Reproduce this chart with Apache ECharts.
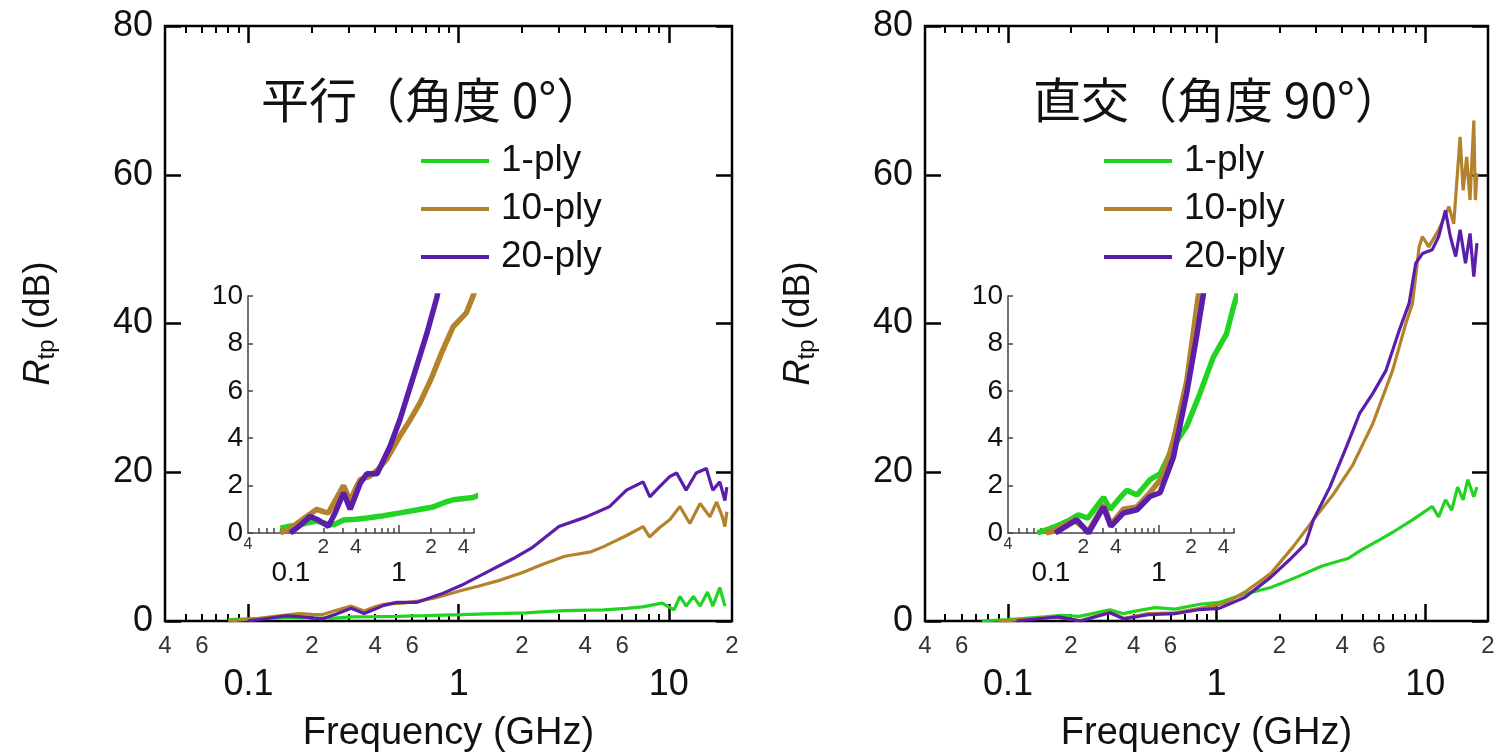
<!DOCTYPE html>
<html>
<head>
<meta charset="utf-8">
<title>Rtp vs Frequency</title>
<style>html,body{margin:0;padding:0;background:#fff;}</style>
</head>
<body>
<script src="https://cdn.jsdelivr.net/npm/echarts@6/dist/echarts.min.js"></script>
<div id="container" style="width:1497px;height:755px;"></div>
<script>
// ---- data (GHz, dB) ----
var seriesNames = ['1-ply', '10-ply', '20-ply'];
var seriesColors = ['#22d422', '#b4822a', '#5a1eab'];
var panelTitles = ['平行（角度 0°）', '直交（角度 90°）'];

// parallel (0 deg)
var green0 = [[0.08,0.2],[0.1,0.3],[0.12,0.35],[0.15,0.45],[0.174,0.5],[0.2,0.42],[0.25,0.35],[0.308,0.55],[0.4,0.58],[0.506,0.63],[0.7,0.72],[1.03,0.85],[1.5,0.98],[2.09,1.1],[2.7,1.3],[3.2,1.4],[4.9,1.5],[6.3,1.7],[7.5,1.9],[9.3,2.4],[10.6,1.5],[11.3,3.3],[12.1,2.0],[13.1,3.3],[14.1,2.0],[15.3,3.9],[16.2,2.0],[17.5,4.5],[18.5,2.0]];
var brown0 = [[0.08,0],[0.1,0.2],[0.114,0.4],[0.14,0.7],[0.174,1.0],[0.2,0.9],[0.223,0.85],[0.26,1.4],[0.308,2.0],[0.355,1.35],[0.4,1.9],[0.44,2.25],[0.54,2.4],[0.65,2.7],[0.77,3.1],[1.03,4.1],[1.25,4.7],[1.58,5.5],[2.0,6.5],[2.5,7.6],[3.2,8.7],[4.26,9.3],[4.9,10],[5.24,10.4],[6.3,11.5],[7.55,12.7],[8.1,11.3],[9.0,12.5],[10.1,13.6],[11.3,15.4],[12.6,13.1],[14.1,15.8],[15.7,14.0],[16.9,16.0],[18.0,14.0],[18.5,12.7],[18.9,14.7]];
var purple0 = [[0.099,0],[0.12,0.3],[0.151,0.7],[0.18,0.55],[0.223,0.28],[0.26,0.9],[0.308,1.7],[0.355,1.0],[0.4,1.6],[0.44,2.1],[0.506,2.5],[0.63,2.5],[0.83,3.65],[1.03,4.8],[1.37,6.6],[1.82,8.4],[2.25,9.9],[3.0,12.7],[4.05,14.0],[5.24,15.4],[6.29,17.6],[7.55,18.7],[8.13,16.7],[9.0,18.0],[10.1,19.4],[10.9,19.9],[12.1,17.6],[13.5,19.9],[15.1,20.5],[16.2,17.6],[17.5,18.7],[18.5,16.2],[18.9,18.0]];

// perpendicular (90 deg)
var green90 = [[0.075,0],[0.082,0.07],[0.1,0.2],[0.12,0.35],[0.15,0.55],[0.18,0.77],[0.22,0.63],[0.308,1.5],[0.355,1.0],[0.44,1.5],[0.506,1.8],[0.63,1.6],[0.83,2.25],[1.03,2.5],[1.37,3.65],[1.82,4.5],[2.42,5.9],[3.2,7.4],[4.26,8.4],[4.95,9.55],[6.04,10.9],[7.24,12.2],[8.69,13.6],[9.7,14.5],[10.8,15.4],[11.6,14.0],[12.5,16.3],[13.4,14.9],[14.3,18.0],[15.2,16.3],[16.0,19.0],[17.1,16.7],[17.7,18.0]];
var brown90 = [[0.09,0],[0.1,0.05],[0.13,0.3],[0.163,0.56],[0.223,0.07],[0.308,1.2],[0.36,0.35],[0.47,1.0],[0.63,1.1],[0.83,1.7],[1.1,2.4],[1.37,3.9],[1.82,6.4],[2.33,10.0],[2.91,13.6],[3.62,17.0],[4.5,21.0],[5.6,26.5],[6.98,33.7],[8.07,40.0],[8.69,42.7],[9.35,50.3],[9.7,51.7],[10.4,50.3],[11.6,52.6],[13.0,55.7],[13.7,53.4],[14.7,65.1],[15.2,57.9],[15.8,62.4],[16.4,56.6],[17.1,67.3],[17.4,56.6],[17.7,60.2]];
var purple90 = [[0.11,0],[0.14,0.3],[0.174,0.56],[0.223,0],[0.308,1.1],[0.36,0.28],[0.47,0.84],[0.63,0.98],[0.83,1.54],[1.03,1.7],[1.37,3.2],[1.82,5.9],[2.25,8.3],[2.67,10.4],[2.91,13.6],[3.49,18.0],[4.19,23.4],[4.85,27.9],[5.61,30.6],[6.49,33.7],[7.51,39.1],[8.37,42.7],[9.01,48.1],[9.7,49.4],[10.8,49.9],[11.6,51.7],[12.5,55.2],[13.2,51.7],[14.0,49.0],[14.7,52.6],[15.6,48.1],[16.4,52.1],[17.1,46.3],[17.7,50.8]];

// axis ticks (GHz)
var freqMin = 0.04, freqMax = 20, insetFreqMax = 5;
var minorTickFreqs = [0.05,0.06,0.07,0.08,0.09,0.2,0.3,0.4,0.5,0.6,0.7,0.8,0.9,2,3,4,5,6,7,8,9];
var minorLabelFreqs = [0.04,0.06,0.2,0.4,0.6,2,4,6,20];
var majorFreqs = [0.1,1,10];
var insetMinorTickFreqs = [0.05,0.06,0.07,0.08,0.09,0.2,0.3,0.4,0.5,0.6,0.7,0.8,0.9,2,3,4,5];
var insetMinorLabelFreqs = [0.04,0.2,0.4,2,4];
var insetMajorFreqs = [0.1,1];

var panelData = [[green0, brown0, purple0], [green90, brown90, purple90]];

// ---- layout ----
var mainGrids = [{left:165, top:26, width:567, height:595}, {left:925, top:26, width:563, height:595}];
var insetGrids = [{left:248, top:296, width:226, height:237}, {left:1008, top:296, width:226, height:237}];
var FONT = '"Liberation Sans", Arial, sans-serif';

var chart = echarts.init(document.getElementById('container'));

function lg(v) { return Math.log10(v); }
function toAxis(list, lo, hi) {
    var a = lg(lo), b = lg(hi);
    return list.map(function (f) { return Math.min(Math.max(lg(f), a + 1e-9), b - 1e-9); });
}
function digitOf(v) {
    var f = Math.pow(10, v);
    return String(Math.round(f / Math.pow(10, Math.floor(Math.log10(f) + 1e-6))));
}
function majorText(v) {
    var f = Math.pow(10, v);
    return f < 0.95 ? f.toFixed(1) : String(Math.round(f));
}

// overlay value axis (log10 space) used only for ticks and labels
function tickAxis(gi, hi, pos, ticks, len, width, labels, labelOpt, extra) {
    var ax = {
        type: 'value', gridIndex: gi, position: pos,
        min: lg(freqMin), max: lg(hi),
        axisLine: {show: false, onZero: false},
        splitLine: {show: false},
        axisTick: {show: true, inside: true, length: len, customValues: toAxis(ticks, freqMin, hi),
            lineStyle: {color: '#000', width: width}},
        axisLabel: labels ? Object.assign({show: true, customValues: toAxis(labels, freqMin, hi),
            fontFamily: FONT, color: '#111'}, labelOpt) : {show: false}
    };
    return Object.assign(ax, extra || {});
}

var grids = [], xAxes = [], yAxes = [], series = [], legends = [], titles = [];
var p;
for (p = 0; p < 2; p++) {
    grids.push(Object.assign({show: true, borderColor: '#000', borderWidth: 2.5, outerBoundsMode: 'none'}, mainGrids[p]));
}
for (p = 0; p < 2; p++) {
    grids.push(Object.assign({show: false, outerBoundsMode: 'none'}, insetGrids[p]));
}

// log axes carrying the data (indices 0..3)
for (p = 0; p < 4; p++) {
    xAxes.push({type: 'log', logBase: 10, gridIndex: p, min: freqMin, max: p < 2 ? freqMax : insetFreqMax, show: false});
}
// y axes carrying the data (indices 0..3)
for (p = 0; p < 2; p++) {
    yAxes.push({
        type: 'value', gridIndex: p, min: 0, max: 80, interval: 20, position: 'left',
        axisLine: {show: false, onZero: false}, splitLine: {show: false},
        axisTick: {inside: true, length: 16, lineStyle: {color: '#000', width: 2.5}},
        axisLabel: {fontSize: 36, fontFamily: FONT, color: '#111', margin: 12},
        name: '{i|R}{s|tp}{n| (dB)}', nameLocation: 'middle', nameRotate: 90, nameGap: 106,
        nameTextStyle: {fontFamily: FONT, color: '#111', rich: {
            i: {fontStyle: 'italic', fontSize: 36, lineHeight: 40, fontFamily: FONT, color: '#111'},
            s: {fontSize: 24, lineHeight: 24, verticalAlign: 'bottom', fontFamily: FONT, color: '#111'},
            n: {fontSize: 36, lineHeight: 40, fontFamily: FONT, color: '#111'}
        }}
    });
}
for (p = 0; p < 2; p++) {
    yAxes.push({
        type: 'value', gridIndex: 2 + p, min: 0, max: 10, interval: 2, position: 'left',
        axisLine: {show: true, onZero: false, lineStyle: {color: '#444', width: 1.5}}, splitLine: {show: false},
        axisTick: {inside: true, length: 5, lineStyle: {color: '#444', width: 1.5}},
        axisLabel: {fontSize: 28, fontFamily: FONT, color: '#111', margin: 5}
    });
}
// right-hand tick axes of the main boxes
for (p = 0; p < 2; p++) {
    yAxes.push({
        type: 'value', gridIndex: p, min: 0, max: 80, interval: 20, position: 'right',
        axisLine: {show: false, onZero: false}, splitLine: {show: false},
        axisTick: {inside: true, length: 16, lineStyle: {color: '#000', width: 2.5}},
        axisLabel: {show: false}
    });
}

// tick/label overlays
for (p = 0; p < 2; p++) {
    xAxes.push(tickAxis(p, freqMax, 'bottom', minorTickFreqs, 7, 2, minorLabelFreqs,
        {fontSize: 24, margin: 13, color: '#333', formatter: digitOf}));
    xAxes.push(tickAxis(p, freqMax, 'bottom', majorFreqs, 17, 2.5, majorFreqs,
        {fontSize: 36, margin: 46, formatter: majorText},
        {name: 'Frequency (GHz)', nameLocation: 'middle', nameGap: 94,
         nameTextStyle: {fontSize: 38, fontFamily: FONT, color: '#111'}}));
    xAxes.push(tickAxis(p, freqMax, 'top', minorTickFreqs, 7, 2, null));
    xAxes.push(tickAxis(p, freqMax, 'top', majorFreqs, 17, 2.5, null));
}
for (p = 0; p < 2; p++) {
    var ia = tickAxis(2 + p, insetFreqMax, 'bottom', insetMinorTickFreqs, 5, 1.5, insetMinorLabelFreqs,
        {fontSize: 21, margin: 4, color: '#333',
         formatter: function (v) { return Math.pow(10, v) < 0.05 ? '{sm|' + digitOf(v) + '}' : digitOf(v); },
         rich: {sm: {fontSize: 16, fontFamily: FONT, color: '#333'}}});
    ia.axisLine = {show: true, onZero: false, lineStyle: {color: '#444', width: 1.5}};
    ia.axisTick.lineStyle.color = '#444';
    xAxes.push(ia);
    var ib = tickAxis(2 + p, insetFreqMax, 'bottom', insetMajorFreqs, 8, 1.5, insetMajorFreqs,
        {fontSize: 28, margin: 26, formatter: majorText});
    ib.axisTick.lineStyle.color = '#444';
    xAxes.push(ib);
}

// series
for (p = 0; p < 2; p++) {
    for (var k = 0; k < 3; k++) {
        var base = {
            name: seriesNames[k], type: 'line', data: panelData[p][k],
            symbol: 'none', showSymbol: false, animation: false, clip: true,
            itemStyle: {color: seriesColors[k]}
        };
        series.push(Object.assign({}, base, {xAxisIndex: p, yAxisIndex: p, z: 2 + k,
            lineStyle: {color: seriesColors[k], width: 3.2}}));
        series.push(Object.assign({}, base, {xAxisIndex: 2 + p, yAxisIndex: 2 + p, z: 6 + k,
            lineStyle: {color: seriesColors[k], width: 5.5}}));
    }
}

var legendLeft = [421, 1104];
var titleLeft = [261, 1033];
for (p = 0; p < 2; p++) {
    legends.push({
        orient: 'vertical', left: legendLeft[p], top: 141, padding: 0, data: seriesNames,
        icon: 'rect', itemWidth: 68, itemHeight: 4, itemGap: 8, selectedMode: false,
        textStyle: {fontSize: 37, fontFamily: FONT, color: '#111', lineHeight: 40, padding: [0, 0, 0, 7]}
    });
    titles.push({
        text: panelTitles[p], left: titleLeft[p], top: 70, padding: 0,
        textStyle: {fontSize: 48, fontWeight: 'normal', fontFamily: '"Noto Sans CJK JP", sans-serif', color: '#111', lineHeight: 60}
    });
}

var option = {
    backgroundColor: '#fff',
    animation: false,
    title: titles,
    legend: legends,
    grid: grids,
    xAxis: xAxes,
    yAxis: yAxes,
    series: series
};
chart.setOption(option);
window.addEventListener('resize', chart.resize);
</script>
</body>
</html>
